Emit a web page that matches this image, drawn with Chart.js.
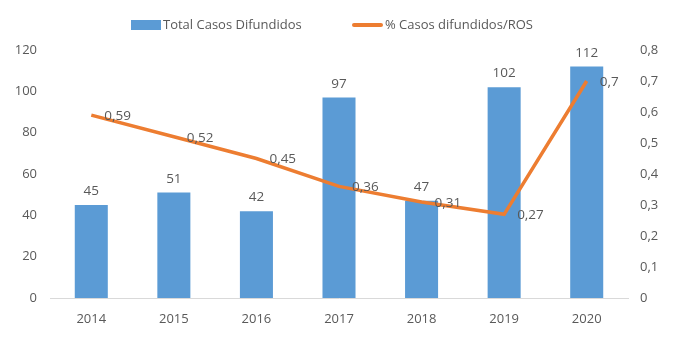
<!DOCTYPE html>
<html>
<head>
<meta charset="utf-8">
<script src="https://cdn.jsdelivr.net/npm/chart.js@4/dist/chart.umd.min.js"></script>
<style>
html,body{margin:0;padding:0;background:#fff;}
#wrap{width:675px;height:339px;position:relative;}
</style>
</head>
<body>
<div id="wrap"><canvas id="c" width="675" height="339"></canvas></div>
<script>
const categories = ['2014','2015','2016','2017','2018','2019','2020'];
const totalCasos = [45, 51, 42, 97, 47, 102, 112];
const pctCasos = [0.59, 0.52, 0.45, 0.36, 0.31, 0.27, 0.7];
const seriesNames = ['Total Casos Difundidos', '% Casos difundidos/ROS'];

const FONT = '"Open Sans", sans-serif';
const TXT = '#595959';
const BLUE = '#5B9BD5';
const ORANGE = '#ED7D31';

function fmt(v){ return String(v).replace('.', ','); }

const labelsPlugin = {
  id: 'labelsPlugin',
  afterDatasetsDraw(chart) {
    const ctx = chart.ctx;
    ctx.save();
    ctx.font = '13.5px ' + FONT;
    ctx.fillStyle = TXT;
    // bar labels
    const mb = chart.getDatasetMeta(1);
    mb.data.forEach((el, i) => {
      ctx.textAlign = 'center';
      ctx.textBaseline = 'bottom';
      ctx.fillText(fmt(chart.data.datasets[1].data[i]), el.x, el.y - 7);
    });
    // line labels (right of point)
    const ml = chart.getDatasetMeta(0);
    ml.data.forEach((el, i) => {
      ctx.textAlign = 'left';
      ctx.textBaseline = 'middle';
      ctx.fillText(fmt(chart.data.datasets[0].data[i]), el.x + 13, el.y + 1);
    });
    ctx.restore();
  },
  afterDraw(chart) {
    const ctx = chart.ctx;
    ctx.save();
    ctx.font = '13px ' + FONT;
    ctx.textBaseline = 'middle';
    ctx.textAlign = 'left';
    ctx.fillStyle = BLUE;
    ctx.fillRect(131, 20, 30, 10);
    ctx.fillStyle = TXT;
    ctx.fillText(seriesNames[0], 163, 25);
    ctx.strokeStyle = ORANGE;
    ctx.lineWidth = 4;
    ctx.lineCap = 'round';
    ctx.beginPath();
    ctx.moveTo(354, 25); ctx.lineTo(381, 25);
    ctx.stroke();
    ctx.fillText(seriesNames[1], 385, 25);
    ctx.restore();
  }
};

new Chart(document.getElementById('c'), {
  data: {
    labels: categories,
    datasets: [
      {
        type: 'line',
        label: seriesNames[1],
        data: pctCasos,
        yAxisID: 'y1',
        borderColor: ORANGE,
        backgroundColor: ORANGE,
        borderWidth: 3.5,
        pointRadius: 0,
        tension: 0,
        order: 0
      },
      {
        type: 'bar',
        label: seriesNames[0],
        data: totalCasos,
        yAxisID: 'y',
        backgroundColor: BLUE,
        borderWidth: 0,
        categoryPercentage: 1,
        barPercentage: 0.4,
        order: 1
      }
    ]
  },
  plugins: [labelsPlugin],
  options: {
    responsive: false,
    animation: false,
    layout: { padding: { top: 50, bottom: 0, left: 0, right: 0 } },
    plugins: {
      legend: { display: false },
      tooltip: { enabled: false }
    },
    scales: {
      x: {
        grid: { display: false, drawTicks: false },
        border: { display: true, color: '#D9D9D9', width: 1 },
        ticks: { color: TXT, font: { family: FONT, size: 13 }, padding: 13 },
        afterFit(s) { s.height = 41; }
      },
      y: {
        position: 'left',
        min: 0, max: 120,
        grid: { display: false, drawTicks: false },
        border: { display: false },
        ticks: { stepSize: 20, color: TXT, font: { family: FONT, size: 13 }, padding: 13 },
        afterFit(s) { s.width = 50; }
      },
      y1: {
        position: 'right',
        min: 0, max: 0.8,
        grid: { display: false, drawTicks: false },
        border: { display: false },
        ticks: { stepSize: 0.1, color: TXT, font: { family: FONT, size: 13 }, padding: 12,
          callback: v => fmt(Math.round(v * 10) / 10) },
        afterFit(s) { s.width = 47; }
      }
    }
  }
});
</script>
</body>
</html>
